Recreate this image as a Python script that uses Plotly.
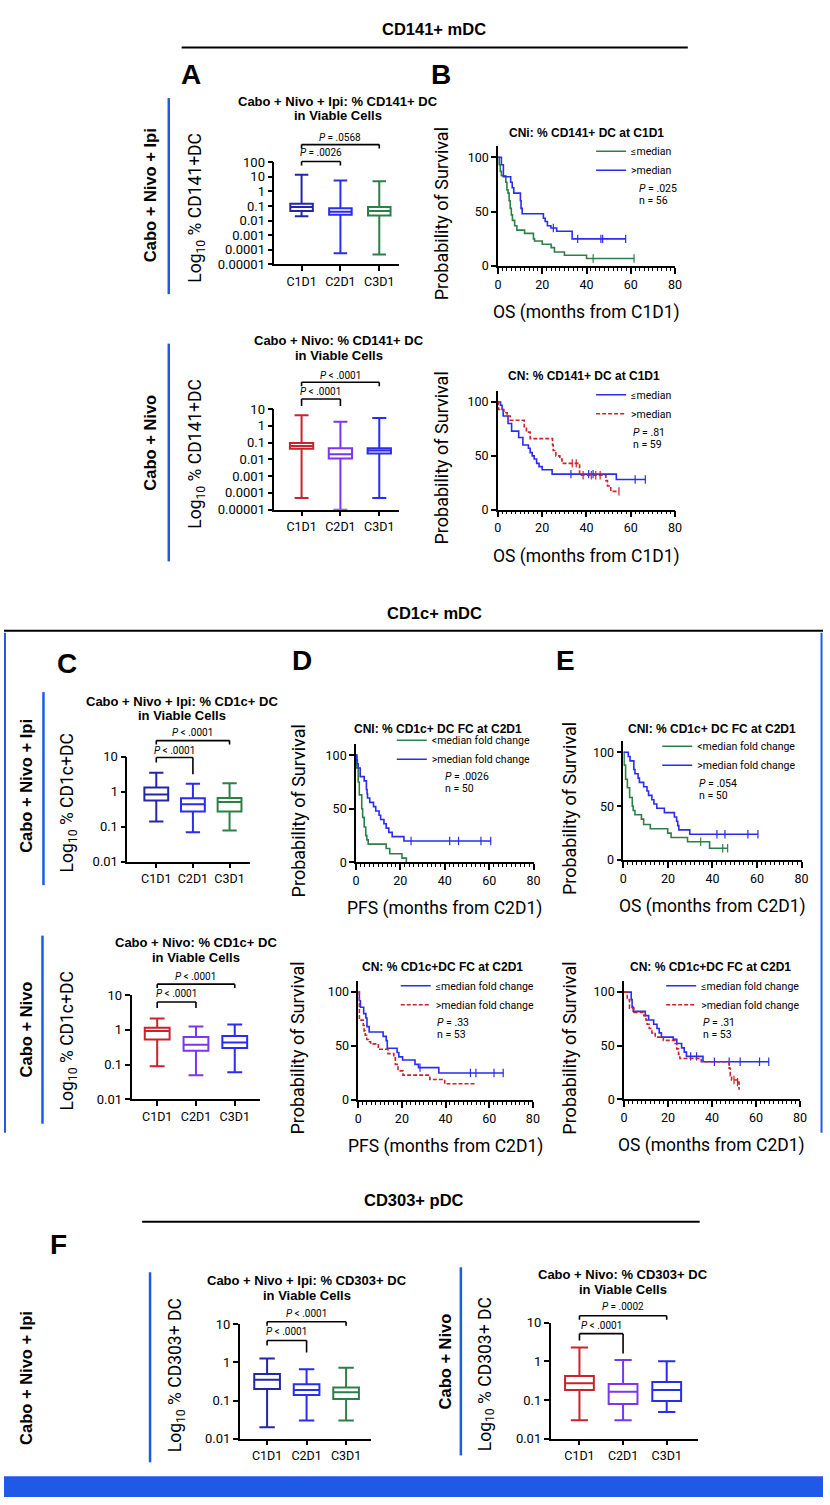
import plotly.graph_objects as go

W, H = 830, 1505
FONT = "Roboto"
BOLD = "Liberation Sans"

NAVY = "#2327a6"
BLUE = "#2a2cf0"
GREEN = "#2d7f48"
RED = "#c9232b"
PURPLE = "#7a36f2"
JBLUE = "#1f5ae6"

# ---------------- data ----------------
cats = ["C1D1", "C2D1", "C3D1"]
log_exps = [-5, -4, -3, -2, -1, 0, 1, 2]
log_labels = ["0.00001", "0.0001", "0.001", "0.01", "0.1", "1", "10", "100"]
km_yticks = [0, 50, 100]
km_xticks = [0, 20, 40, 60, 80]

# Box stats: lower whisker, q1, median, q3, upper whisker (per visit)
a1_low = [0.02, 5.9e-5, 4.8e-5]
a1_q1 = [0.046, 0.025, 0.022]
a1_med = [0.085, 0.041, 0.046]
a1_q3 = [0.14, 0.069, 0.085]
a1_high = [13.8, 5.5, 4.9]

a2_low = [5e-5, 1e-5, 5e-5]
a2_q1 = [0.042, 0.011, 0.022]
a2_med = [0.063, 0.02, 0.033]
a2_q3 = [0.094, 0.046, 0.046]
a2_high = [4.2, 1.7, 2.9]

c1_low = [0.14, 0.07, 0.078]
c1_q1 = [0.56, 0.27, 0.27]
c1_med = [0.84, 0.44, 0.51]
c1_q3 = [1.32, 0.65, 0.66]
c1_high = [3.5, 1.68, 1.76]

c2_low = [0.089, 0.049, 0.06]
c2_q1 = [0.53, 0.25, 0.30]
c2_med = [0.92, 0.37, 0.43]
c2_q3 = [1.15, 0.62, 0.66]
c2_high = [2.1, 1.25, 1.43]

f1_low = [0.02, 0.03, 0.03]
f1_q1 = [0.20, 0.14, 0.11]
f1_med = [0.35, 0.19, 0.166]
f1_q3 = [0.50, 0.27, 0.22]
f1_high = [1.28, 0.66, 0.73]

f2_low = [0.03, 0.03, 0.049]
f2_q1 = [0.18, 0.079, 0.094]
f2_med = [0.27, 0.164, 0.18]
f2_q3 = [0.42, 0.26, 0.29]
f2_high = [2.3, 1.08, 1.0]

# Kaplan-Meier step curves (months, % surviving) and censor marks
b1_lo_t = [0, 0.5, 1, 1.5, 3.5, 4, 4.5, 5, 5.5, 6, 6.5, 7.5, 8.5, 12, 16, 16.5, 20, 24, 25.5, 30, 40, 61.5]
b1_lo_s = [100, 93, 87, 83, 77, 70, 67, 60, 53, 47, 42, 37, 33, 30, 25, 23, 20, 17, 13, 10, 7, 7]
b1_lo_ct = [43, 61.5]
b1_lo_cs = [7, 7]
b1_hi_t = [0, 1.5, 2.4, 5.7, 6.4, 7.1, 10.1, 10.4, 10.9, 20.5, 21.3, 22.3, 23.9, 26.5, 33.5, 57.7]
b1_hi_s = [100, 93, 82, 77, 72, 67, 60, 53, 48, 44, 41, 37, 35, 32, 25, 25]
b1_hi_ct = [25, 36, 46.5, 47.3, 57.7]
b1_hi_cs = [35, 25, 25, 25, 25]

b2_lo_t = [0, 1.2, 1.9, 2.4, 4.6, 6.2, 9.4, 11.3, 13.8, 14.6, 15.5, 16.4, 17.5, 18.6, 20, 24.5, 53.5, 66.6]
b2_lo_s = [100, 97, 93, 87, 80, 73, 67, 60, 57, 53, 50, 47, 43, 40, 37, 33, 28, 28]
b2_lo_ct = [33, 41, 43, 62, 66.6]
b2_lo_cs = [33, 33, 33, 28, 28]
b2_hi_t = [0, 0.3, 2.7, 4.2, 5.6, 11.9, 12.9, 14.6, 24.7, 25.0, 26.2, 28, 29, 36.9, 48.8, 49.5, 51, 54.7]
b2_hi_s = [100, 93, 90, 87, 83, 77, 72, 66, 60, 55, 50, 47, 43, 32, 27, 22, 17, 17]
b2_hi_ct = [33.6, 35.4, 38.5, 42.2, 44.2, 46.2, 54.7]
b2_hi_cs = [43, 43, 32, 32, 32, 32, 17]

d1_lo_t = [0, 0.4, 1.0, 1.5, 2.6, 3.0, 3.7, 4.4, 4.9, 5.5, 13.6, 15.2, 20.7, 22.7]
d1_lo_s = [100, 88, 75, 63, 50, 42, 33, 25, 21, 17, 13, 8, 4, 0]
d1_lo_ct = []
d1_lo_cs = []
d1_hi_t = [0, 0.3, 0.6, 1.0, 1.9, 3.7, 4.7, 5.0, 5.2, 6.2, 7.9, 8.9, 10.4, 11.1, 12.6, 13.6, 14.8, 16.3, 21.6, 60.7]
d1_hi_s = [100, 96, 92, 88, 80, 76, 68, 64, 60, 56, 52, 48, 44, 40, 36, 32, 28, 24, 20, 20]
d1_hi_ct = [24.8, 42.2, 46.2, 56.3, 60.7]
d1_hi_cs = [20, 20, 20, 20, 20]

e1_lo_t = [0, 0.3, 1.0, 1.8, 2.8, 4.0, 4.4, 5.2, 8.1, 9.1, 12.1, 19.9, 21.4, 28.8, 38.7, 46.8]
e1_lo_s = [100, 88, 75, 67, 58, 50, 46, 42, 38, 33, 29, 25, 21, 17, 11, 11]
e1_lo_ct = [34.7, 44.6, 46.8]
e1_lo_cs = [17, 11, 11]
e1_hi_t = [0, 2.2, 3.0, 4.7, 5.2, 6.6, 7.2, 9.1, 10.6, 11.3, 12.8, 13.7, 15.0, 18.4, 22.9, 23.9, 24.4, 24.9, 29.8, 60.4]
e1_hi_s = [100, 96, 92, 84, 80, 76, 72, 68, 64, 60, 56, 52, 48, 44, 40, 36, 32, 28, 24, 24]
e1_hi_ct = [42, 45.6, 55.9, 60.4]
e1_hi_cs = [24, 24, 24, 24]

d2_lo_t = [0, 0.5, 1.0, 2.5, 3.5, 4.0, 5.0, 11.4, 12.8, 13.3, 17.8, 18.6, 20.3, 26.0, 27.6, 36.9, 66.4]
d2_lo_s = [100, 92, 86, 80, 76, 68, 63, 59, 55, 48, 44, 40, 37, 33, 30, 25, 25]
d2_lo_ct = [28.3, 51.4, 53.9, 62.2, 66.4]
d2_lo_cs = [30, 25, 25, 25, 25]
d2_hi_t = [0, 0.5, 2.3, 2.7, 3.2, 3.9, 4.7, 5.7, 9.2, 13.6, 16.3, 17.0, 18.2, 20.5, 32.8, 39.6, 53.6]
d2_hi_s = [100, 74, 69, 64, 60, 56, 54, 52, 47, 43, 39, 33, 27, 23, 19, 15, 15]
d2_hi_ct = []
d2_hi_cs = []

e2_lo_t = [0, 3.3, 3.7, 4.2, 9.7, 11.2, 13.5, 15.0, 16.0, 17.0, 22.4, 24.0, 26.2, 27.4, 28.4, 35.9, 65.8]
e2_lo_s = [100, 93, 86, 82, 78, 74, 70, 66, 62, 58, 56, 52, 48, 44, 40, 35, 35]
e2_lo_ct = [30.3, 33, 41.1, 47.8, 52.8, 61.6, 65.8]
e2_lo_cs = [40, 40, 35, 35, 35, 35, 35]
e2_hi_t = [0, 1.5, 2.5, 4.5, 9.0, 10.0, 10.5, 11.5, 12.7, 14.2, 17.9, 23.2, 24.0, 24.8, 25.4, 35.1, 47.8, 48.3, 48.9, 51.6, 52.3]
e2_hi_s = [100, 93, 85, 81, 78, 74, 70, 66, 62, 58, 55, 52, 47, 42, 38, 35, 29, 22, 18, 16, 9]
e2_hi_ct = [50, 51.6]
e2_hi_cs = [18, 16]

# ---------------- helpers ----------------
fig = go.Figure()
layout = {}
annotations = []
shapes = []


def fx(x):
    return x / W


def fy(y):
    return 1 - y / H


def names(i):
    s = "" if i == 1 else str(i)
    return "xaxis" + s, "yaxis" + s, "x" + s, "y" + s


def text(x, y, t, size, family=FONT, angle=0, xanchor="center", color="black"):
    annotations.append(dict(x=fx(x), y=fy(y), xref="paper", yref="paper", text=t, showarrow=False,
                            textangle=angle, xanchor=xanchor, yanchor="middle",
                            font=dict(family=family, size=size, color=color)))


def pline(x0, y0, x1, y1, color="black", width=2):
    shapes.append(dict(type="line", xref="paper", yref="paper", x0=fx(x0), y0=fy(y0), x1=fx(x1), y1=fy(y1),
                       line=dict(color=color, width=width)))


def box_panel(i, stats, colors, xdom, ydom, yr, xr, bw, title_lines, title_x, title_y, ytitle, ytitle_x,
              brackets):
    xa, ya, xref, yref = names(i)
    low, q1, med, q3, high = stats
    for k, c in enumerate(cats):
        fig.add_trace(go.Box(x=[c], lowerfence=[low[k]], q1=[q1[k]], median=[med[k]], q3=[q3[k]],
                             upperfence=[high[k]], xaxis=xref, yaxis=yref,
                             line=dict(color=colors[k], width=2), fillcolor="white",
                             whiskerwidth=0.6, width=bw, showlegend=False, hoverinfo="skip"))
    exps = [e for e in log_exps if yr[0] <= e <= yr[1]]
    layout[xa] = dict(domain=[fx(xdom[0]), fx(xdom[1])], anchor=yref, type="category", range=xr,
                      showline=True, linecolor="black", linewidth=1.6, ticks="outside", ticklen=5,
                      tickwidth=1.5, tickcolor="black", showgrid=False, zeroline=False,
                      tickfont=dict(family=FONT, size=12.5, color="black"))
    layout[ya] = dict(domain=[fy(ydom[1]), fy(ydom[0])], anchor=xref, type="log", range=list(yr),
                      tickvals=[10.0 ** e for e in exps],
                      ticktext=[log_labels[log_exps.index(e)] for e in exps],
                      showline=True, linecolor="black", linewidth=1.6, ticks="outside", ticklen=5,
                      tickwidth=1.5, tickcolor="black", showgrid=False, zeroline=False,
                      tickfont=dict(family=FONT, size=13, color="black"))
    for j, tl in enumerate(title_lines):
        text(title_x, title_y + j * 15, "<b>%s</b>" % tl, 13, family=BOLD)
    text(ytitle_x, (ydom[0] + ydom[1]) / 2 - 6, ytitle, 17.5, angle=-90)
    # significance brackets: (label, label_y, line_y, leg0_end, leg1_end, i0, i1)
    for lab, ly, yl, e0, e1, i0, i1 in brackets:
        shapes.append(dict(type="line", xref=xref, yref="paper", x0=i0, x1=i1, y0=fy(yl), y1=fy(yl),
                           line=dict(color="black", width=1.6)))
        shapes.append(dict(type="line", xref=xref, yref="paper", x0=i0, x1=i0, y0=fy(yl), y1=fy(e0),
                           line=dict(color="black", width=1.6)))
        shapes.append(dict(type="line", xref=xref, yref="paper", x0=i1, x1=i1, y0=fy(yl), y1=fy(e1),
                           line=dict(color="black", width=1.6)))
        annotations.append(dict(x=(i0 + i1) / 2, y=fy(ly), xref=xref, yref="paper", text=lab,
                                showarrow=False, xanchor="center", yanchor="middle",
                                font=dict(family=FONT, size=10, color="black")))


legend_count = [0]


def km_panel(i, curves, xdom, y0px, y100px, title, title_x, title_y, ytitle_x, xtitle, leg_x, leg_y,
             ptxt, ntxt, pn_x, p_y):
    xa, ya, xref, yref = names(i)
    legend_count[0] += 1
    lname = "legend" if legend_count[0] == 1 else "legend%d" % legend_count[0]
    for t, s, ct, cs, name, color, dash in curves:
        fig.add_trace(go.Scatter(x=t, y=s, mode="lines", line=dict(color=color, width=1.6, dash=dash, shape="hv"),
                                 name=name, legend=lname, xaxis=xref, yaxis=yref, hoverinfo="skip"))
        if ct:
            fig.add_trace(go.Scatter(x=ct, y=cs, mode="markers", showlegend=False, xaxis=xref, yaxis=yref,
                                     marker=dict(symbol="line-ns-open", size=6, color=color,
                                                 line=dict(width=1.2, color=color)),
                                     hoverinfo="skip"))
    unit = (y0px - y100px) / 100.0
    ytop = y0px - 110 * unit
    layout[xa] = dict(domain=[fx(xdom[0]), fx(xdom[1])], anchor=yref, range=[0, 80], tickvals=km_xticks,
                      showline=True, linecolor="black", linewidth=1.6, ticks="outside", ticklen=6,
                      tickwidth=1.5, tickcolor="black", showgrid=False, zeroline=False,
                      minor=dict(dtick=2, tick0=0, ticks="outside", ticklen=3, tickwidth=1, tickcolor="black"),
                      tickfont=dict(family=FONT, size=12.5, color="black"))
    layout[ya] = dict(domain=[fy(y0px), fy(ytop)], anchor=xref, range=[0, 110], tickvals=km_yticks,
                      showline=True, linecolor="black", linewidth=1.6, ticks="outside", ticklen=5,
                      tickwidth=1.5, tickcolor="black", showgrid=False, zeroline=False,
                      tickfont=dict(family=FONT, size=12.5, color="black"))
    layout[lname] = dict(x=fx(leg_x - 40), y=fy(leg_y - 16), xanchor="left", yanchor="top",
                         bgcolor="rgba(0,0,0,0)", font=dict(family=FONT, size=10.5, color="black"),
                         itemwidth=30, tracegroupgap=0)
    text(title_x, title_y, "<b>%s</b>" % title, 12, family=BOLD)
    text(ytitle_x, (y0px + ytop) / 2 + 8, "Probability of Survival", 18, angle=-90)
    text((xdom[0] + xdom[1]) / 2, y0px + 47, xtitle, 17.5)
    text(pn_x, p_y, ptxt, 10.5, xanchor="left")
    text(pn_x, p_y + 12, ntxt, 10.5, xanchor="left")


# ---------------- panels ----------------
box_panel(1, (a1_low, a1_q1, a1_med, a1_q3, a1_high), [NAVY, BLUE, GREEN], (274, 400), (156.7, 260),
          (-5, 2), [-0.7, 2.5], 0.58, ["Cabo + Nivo + Ipi: % CD141+ DC", "in Viable Cells"], 338, 95,
          "Log<sub>10</sub> % CD141+DC", 195,
          [("<i>P</i> = .0568", 132, 139, 143, 143, 0, 2), ("<i>P</i> = .0026", 147, 156, 160, 160, 0, 1)])
box_panel(2, (a2_low, a2_q1, a2_med, a2_q3, a2_high), [RED, PURPLE, BLUE], (274, 400), (406, 507.7),
          (-5, 1), [-0.7, 2.5], 0.6, ["Cabo + Nivo: % CD141+ DC", "in Viable Cells"], 340, 337,
          "Log<sub>10</sub> % CD141+DC", 195,
          [("<i>P</i> < .0001", 372, 379, 383, 383, 0, 2), ("<i>P</i> < .0001", 388, 396, 403, 403, 0, 1)])
box_panel(3, (c1_low, c1_q1, c1_med, c1_q3, c1_high), [NAVY, BLUE, GREEN], (125, 249), (757.3, 863.3),
          (-2, 1), [-0.79, 2.55], 0.65, ["Cabo + Nivo + Ipi: % CD1c+ DC", "in Viable Cells"], 180, 701,
          "Log<sub>10</sub> % CD1c+DC", 65,
          [("<i>P</i> < .0001", 733, 741, 745, 745, 0, 2), ("<i>P</i> < .0001", 751, 758, 763, 775, 0, 1)])
box_panel(4, (c2_low, c2_q1, c2_med, c2_q3, c2_high), [RED, PURPLE, BLUE], (129.3, 259), (998, 1103.3),
          (-2, 1), [-0.66, 2.64], 0.64, ["Cabo + Nivo: % CD1c+ DC", "in Viable Cells"], 195, 945,
          "Log<sub>10</sub> % CD1c+DC", 65,
          [("<i>P</i> < .0001", 979, 987, 991, 991, 0, 2), ("<i>P</i> < .0001", 996, 1005, 1011, 1011, 0, 1)])
box_panel(5, (f1_low, f1_q1, f1_med, f1_q3, f1_high), [NAVY, BLUE, GREEN], (239, 372.3), (1330.7, 1446),
          (-2, 1), [-0.69, 2.64], 0.65, ["Cabo + Nivo + Ipi: % CD303+ DC", "in Viable Cells"], 307, 1286,
          "Log<sub>10</sub> % CD303+ DC", 175,
          [("<i>P</i> < .0001", 1320, 1328, 1332, 1332, 0, 2),
           ("<i>P</i> < .0001", 1338, 1347, 1352, 1359, 0, 1)])
box_panel(6, (f2_low, f2_q1, f2_med, f2_q3, f2_high), [RED, PURPLE, BLUE], (554, 703), (1329, 1446),
          (-2, 1), [-0.66, 2.71], 0.66, ["Cabo + Nivo: % CD303+ DC", "in Viable Cells"], 627, 1280,
          "Log<sub>10</sub> % CD303+ DC", 489,
          [("<i>P</i> = .0002", 1313, 1322, 1326, 1326, 0, 2),
           ("<i>P</i> < .0001", 1332, 1340, 1347, 1360, 0, 1)])

km_panel(7, [(b1_lo_t, b1_lo_s, b1_lo_ct, b1_lo_cs, "≤median", GREEN, "solid"),
             (b1_hi_t, b1_hi_s, b1_hi_ct, b1_hi_cs, ">median", BLUE, "solid")],
         (500.7, 680), 261.7, 151.7, "CNi: % CD141+ DC at C1D1", 590, 127, 443, "OS (months from C1D1)",
         635, 147, "<i>P</i> = .025", "n = 56", 641, 183)
km_panel(8, [(b2_lo_t, b2_lo_s, b2_lo_ct, b2_lo_cs, "≤median", BLUE, "solid"),
             (b2_hi_t, b2_hi_s, b2_hi_ct, b2_hi_cs, ">median", RED, "4px,2px")],
         (500.5, 680), 507.7, 399, "CN: % CD141+ DC at C1D1", 588, 373, 443, "OS (months from C1D1)",
         635, 393, "<i>P</i> = .81", "n = 59", 635, 430)
km_panel(9, [(d1_lo_t, d1_lo_s, d1_lo_ct, d1_lo_cs, "<median fold change", GREEN, "solid"),
             (d1_hi_t, d1_hi_s, d1_hi_ct, d1_hi_cs, ">median fold change", BLUE, "solid")],
         (356.7, 536.7), 864, 755.7, "CNI: % CD1c+ DC FC at C2D1", 440, 729, 298, "PFS (months from C2D1)",
         433, 742, "<i>P</i> = .0026", "n = 50", 445, 777)
km_panel(10, [(e1_lo_t, e1_lo_s, e1_lo_ct, e1_lo_cs, "<median fold change", GREEN, "solid"),
              (e1_hi_t, e1_hi_s, e1_hi_ct, e1_hi_cs, ">median fold change", BLUE, "solid")],
         (627.7, 808.3), 861.7, 752.7, "CNI: % CD1c+ DC FC at C2D1", 718, 729, 573, "OS (months from C2D1)",
         702, 748, "<i>P</i> = .054", "n = 50", 702, 784)
km_panel(11, [(d2_lo_t, d2_lo_s, d2_lo_ct, d2_lo_cs, "≤median fold change", BLUE, "solid"),
              (d2_hi_t, d2_hi_s, d2_hi_ct, d2_hi_cs, ">median fold change", RED, "4px,2px")],
         (359, 536), 1104, 995, "CN: % CD1c+DC FC at C2D1", 444, 970, 298, "PFS (months from C2D1)",
         437, 990, "<i>P</i> = .33", "n = 53", 437, 1026)
km_panel(12, [(e2_lo_t, e2_lo_s, e2_lo_ct, e2_lo_cs, "≤median fold change", BLUE, "solid"),
              (e2_hi_t, e2_hi_s, e2_hi_ct, e2_hi_cs, ">median fold change", RED, "4px,2px")],
         (628.3, 806.7), 1103.3, 995, "CN: % CD1c+DC FC at C2D1", 716, 970, 573, "OS (months from C2D1)",
         706, 990, "<i>P</i> = .31", "n = 53", 706, 1026)

# ---------------- section headers, letters, group labels ----------------
text(436, 22, "<b>CD141+ mDC</b>", 16.5, family=BOLD)
pline(180, 41, 693, 41)
text(436, 612, "<b>CD1c+ mDC</b>", 16.5, family=BOLD)
pline(0, 630, 830, 630)
text(416, 1205, "<b>CD303+ pDC</b>", 16.5, family=BOLD)
pline(140, 1227, 705, 1227)

for lab, x, y in [("A", 190, 68), ("B", 443, 68), ("C", 64, 663), ("D", 302, 660), ("E", 569, 660),
                  ("F", 55, 1250)]:
    text(x, y, "<b>%s</b>" % lab, 28, family=BOLD)

for lab, x, y, lx, ly0, ly1 in [("Cabo + Nivo + Ipi", 148, 190, 167, 92, 290),
                                ("Cabo + Nivo", 148, 440, 167, 340, 560),
                                ("Cabo + Nivo + Ipi", 22, 787, 40, 692, 887),
                                ("Cabo + Nivo", 22, 1033, 39, 938, 1128),
                                ("Cabo + Nivo + Ipi", 22, 1385, 148, 1278, 1470),
                                ("Cabo + Nivo", 447, 1368, 463, 1273, 1463)]:
    text(x, y, "<b>%s</b>" % lab, 16.5, family=BOLD, angle=-90)
    pline(lx, ly0, lx, ly1, color=JBLUE, width=2.5)

# blue frame edges around the CD1c+ section and bottom bar
pline(1, 632, 1, 1137, color=JBLUE, width=2)
pline(828.5, 632, 828.5, 1137, color=JBLUE, width=2)
shapes.append(dict(type="rect", xref="paper", yref="paper", x0=0, x1=1, y0=0, y1=fy(1484),
                   fillcolor=JBLUE, line=dict(width=0)))

layout.update(width=W, height=H, margin=dict(l=0, r=0, t=0, b=0), paper_bgcolor="white",
              plot_bgcolor="rgba(0,0,0,0)", hovermode=False, annotations=annotations, shapes=shapes)
fig.update_layout(**layout)
fig.write_html("out.html", config={"displayModeBar": False},
               post_script="document.body.style.margin='0px';"
                           "document.body.style.overflow='hidden';"
                           "document.documentElement.style.overflow='hidden';")
